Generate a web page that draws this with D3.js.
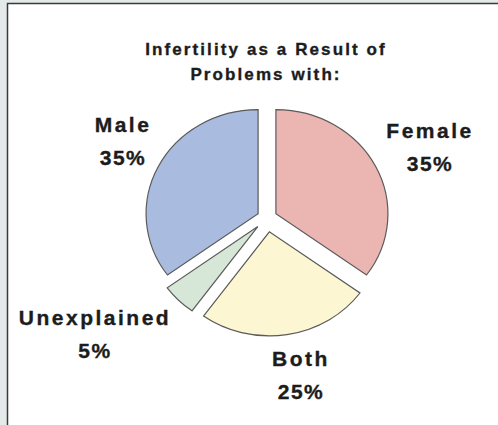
<!DOCTYPE html>
<html>
<head>
<meta charset="utf-8">
<script src="https://cdn.jsdelivr.net/npm/d3@7/dist/d3.min.js"></script>
<style>
  html, body { margin: 0; padding: 0; background: #e4e9ea; }
  svg { display: block; }
  text { font-family: "Liberation Sans", Arial, sans-serif; font-weight: bold; fill: #1c1c1c; stroke: #1c1c1c; stroke-width: 0.35px; }
</style>
</head>
<body>
<div id="chart"></div>
<script>
// data, clockwise from 12 o'clock
const categories = ["Female", "Both", "Unexplained", "Male"];
const percents = [35, 25, 5, 35];
const titleLines = ["Infertility as a Result of", "Problems with:"];

const width = 498;
const height = 425;

const colors = {
  Female: "#ebb5b2",
  Both: "#fcf7d2",
  Unexplained: "#d6e7d8",
  Male: "#a9bbdf"
};
// how far each slice is pulled out
const explode = { Female: 10, Both: 15, Unexplained: 13, Male: 10 };
// label anchors (centre x, baseline of first line)
const labelPos = {
  Female: [429, 138],
  Both: [300, 366],
  Unexplained: [94, 325],
  Male: [122, 132]
};

const svg = d3.select("#chart")
  .append("svg")
  .attr("width", width)
  .attr("height", height);

// white panel with a dark frame on left and top
svg.append("rect")
  .attr("x", 7.5)
  .attr("y", 3.5)
  .attr("width", width + 10)
  .attr("height", height + 10)
  .attr("fill", "#fff")
  .attr("stroke", "#3a3a3a")
  .attr("stroke-width", 1.5);

// title
svg.append("g")
  .selectAll("text")
  .data(titleLines)
  .enter()
  .append("text")
  .attr("x", 266)
  .attr("y", function (d, i) { return 55 + i * 25; })
  .attr("text-anchor", "middle")
  .attr("font-size", "17px")
  .attr("letter-spacing", "2.1px")
  .text(function (d) { return d; });

const rx = 112;
const squash = 0.93;
const cx = 267;
const cy = 218;

const pie = d3.pie().sort(null).value(function (d) { return d.value; });
const arc = d3.arc().innerRadius(0).outerRadius(rx);

const slices = pie(categories.map(function (c, i) {
  return { name: c, value: percents[i] };
}));

const pieGroup = svg.append("g")
  .attr("transform", "translate(" + cx + "," + cy + ") scale(1," + squash + ")");

pieGroup.selectAll("path")
  .data(slices)
  .enter()
  .append("path")
  .attr("d", arc)
  .attr("transform", function (d) {
    const mid = (d.startAngle + d.endAngle) / 2;
    const off = explode[d.data.name];
    return "translate(" + (Math.sin(mid) * off) + "," + (-Math.cos(mid) * off) + ")";
  })
  .attr("fill", function (d) { return colors[d.data.name]; })
  .attr("stroke", "#5a5a5a")
  .attr("stroke-width", 1.2)
  .attr("vector-effect", "non-scaling-stroke");

// labels
const labels = svg.append("g");
slices.forEach(function (d) {
  const p = labelPos[d.data.name];
  const t = labels.append("text")
    .attr("text-anchor", "middle")
    .attr("font-size", "21px")
    .attr("letter-spacing", "2.5px");
  t.append("tspan")
    .attr("x", p[0] + 1)
    .attr("y", p[1])
    .text(d.data.name);
  t.append("tspan")
    .attr("x", p[0] + 1)
    .attr("y", p[1] + 33)
    .attr("letter-spacing", "1.5px")
    .text(d.data.value + "%");
});
</script>
</body>
</html>
